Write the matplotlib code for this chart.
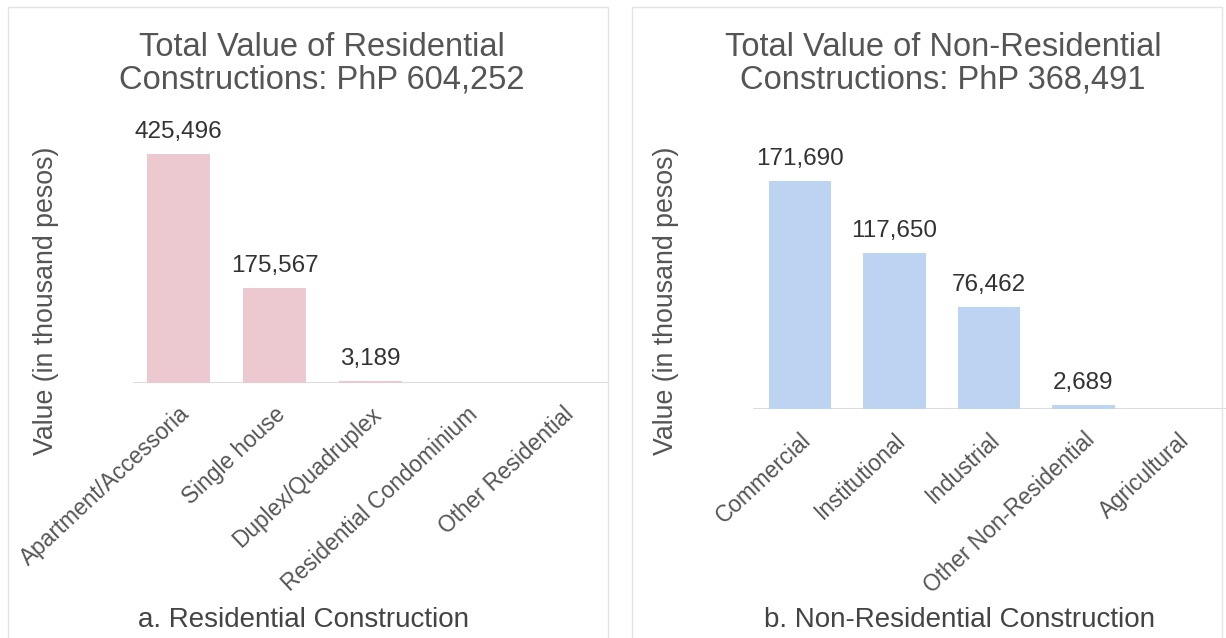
import matplotlib
matplotlib.use("Agg")
import matplotlib.pyplot as plt
from matplotlib.patches import Rectangle

plt.rcParams['font.family'] = ['Liberation Sans', 'DejaVu Sans']

res_labels = ["Apartment/Accessoria", "Single house", "Duplex/Quadruplex",
              "Residential Condominium", "Other Residential"]
res_values = [425496, 175567, 3189, 0, 0]

nonres_labels = ["Commercial", "Institutional", "Industrial",
                 "Other Non-Residential", "Agricultural"]
nonres_values = [171690, 117650, 76462, 2689, 0]

res_title = "Total Value of Residential\nConstructions: PhP 604,252"
nonres_title = "Total Value of Non-Residential\nConstructions: PhP 368,491"

W, H = 1226, 638
fig = plt.figure(figsize=(W / 100, H / 100), dpi=100)
fig.patch.set_facecolor("white")


def px(x, y):
    # pixel coords (from top-left) -> figure fraction
    return x / W, 1 - y / H


def draw_panel(rect, xlim, ymax, labels, values, color, title, title_xy,
               caption, caption_xy, ylab_xy):
    ax = fig.add_axes(rect)
    x = range(len(values))
    ax.bar(x, values, width=0.66, color=color)
    ax.set_xlim(*xlim)
    ax.set_ylim(0, ymax)
    ax.axhline(0, color="#d6d6d6", lw=1.2, zorder=0)
    for s in ax.spines.values():
        s.set_visible(False)
    ax.set_yticks([])
    ax.set_xticks(list(x))
    ax.set_xticklabels(labels, rotation=43, ha="right", va="top",
                       rotation_mode="anchor", fontsize=16.3, color="#555555")
    ax.tick_params(axis="x", length=0, pad=14)
    ax.patch.set_alpha(0)
    for i, v in enumerate(values):
        if v > 0:
            ax.annotate(f"{v:,}", (i, v), xytext=(0, 8), textcoords="offset points",
                        ha="center", va="bottom", fontsize=17.5, color="#333333")
    fig.text(*px(*title_xy), title, ha="center", va="center", fontsize=23.5,
             color="#555555", linespacing=1.05)
    fig.text(*px(*caption_xy), caption, ha="center", va="center", fontsize=20,
             color="#444444")
    fig.text(*px(*ylab_xy), "Value (in thousand pesos)", ha="center", va="center",
             rotation=90, fontsize=19.3, color="#555555")


# left panel: residential
draw_panel([133 / W, 1 - 383 / H, 475 / W, 283 / H], (-0.474, 4.474), 525000,
           res_labels, res_values, "#ecc9d1", res_title, (322, 64),
           "a. Residential Construction", (304, 620), (46, 301))

# right panel: non-residential
draw_panel([753 / W, 1 - 409 / H, 473 / W, 309 / H], (-0.497, 4.508), 232700,
           nonres_labels, nonres_values, "#bcd4f2", nonres_title, (943, 64),
           "b. Non-Residential Construction", (960, 620), (666, 301))

# faint panel frames
for x0, x1 in [(8, 608), (632, 1222)]:
    fig.patches.append(Rectangle(px(x0, 660), (x1 - x0) / W, 653 / H,
                                 transform=fig.transFigure, fill=False,
                                 edgecolor="#e4e4e4", lw=1))

fig.savefig("out.png", dpi=100)
